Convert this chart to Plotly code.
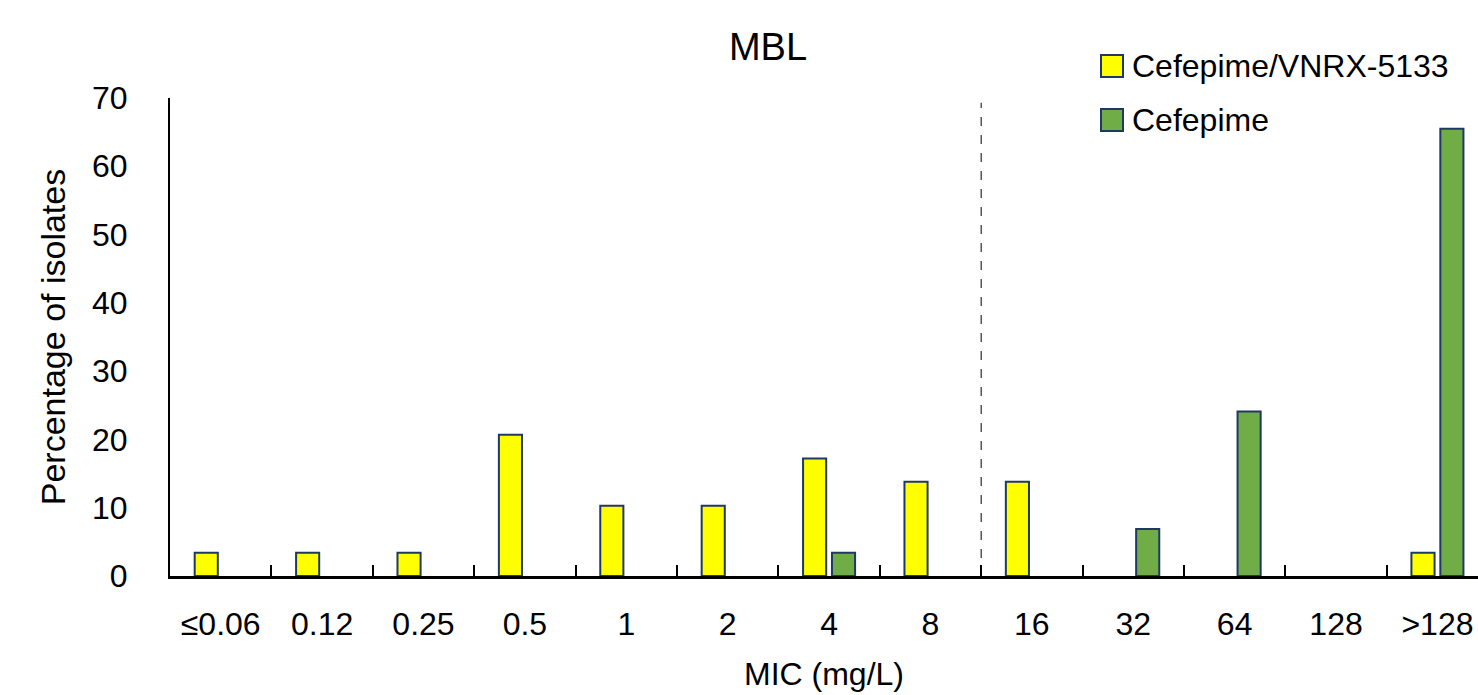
import plotly.graph_objects as go

categories = ["≤0.06", "0.12", "0.25", "0.5", "1", "2", "4", "8", "16", "32", "64", "128", ">128"]
combo_name = "Cefepime/VNRX-5133"
combo_values = [3.4, 3.4, 3.4, 20.7, 10.3, 10.3, 17.2, 13.8, 13.8, 0, 0, 0, 3.4]
mono_name = "Cefepime"
mono_values = [0, 0, 0, 0, 0, 0, 3.4, 0, 0, 6.9, 24.1, 0, 65.5]
y_ticks = [0, 10, 20, 30, 40, 50, 60, 70]
breakpoint_position = 7.5

FONT = "Liberation Sans, Arial, sans-serif"
YELLOW = "#FFFF00"
GREEN = "#70AD47"
EDGE = "#1F3864"


def edge_widths(vals):
    return [2 if v > 0 else 0 for v in vals]


fig = go.Figure()
fig.add_trace(go.Bar(x=categories, y=combo_values, name=combo_name,
                     marker=dict(color=YELLOW, line=dict(color=EDGE, width=edge_widths(combo_values))),
                     showlegend=False))
fig.add_trace(go.Bar(x=categories, y=mono_values, name=mono_name,
                     marker=dict(color=GREEN, line=dict(color=EDGE, width=edge_widths(mono_values))),
                     showlegend=False))

# breakpoint dashed line
fig.add_shape(type="line", xref="x", yref="paper", x0=breakpoint_position, x1=breakpoint_position,
              y0=0, y1=0.99, line=dict(color="black", width=1, dash="dash"))

# manual legend
legend_items = [(combo_name, YELLOW, 66), (mono_name, GREEN, 120)]
for name, color, yc in legend_items:
    fig.add_shape(type="rect", xref="paper", yref="paper",
                  x0=(1101 - 170) / 1308, x1=(1123 - 170) / 1308,
                  y0=(576 - (yc + 11)) / 478, y1=(576 - (yc - 11)) / 478,
                  fillcolor=color, line=dict(color=EDGE, width=2))
    fig.add_annotation(xref="paper", yref="paper", x=(1130 - 170) / 1308, y=(576 - yc) / 478,
                       text=name, showarrow=False, xanchor="left", yanchor="middle",
                       font=dict(family=FONT, size=32, color="black"))

fig.update_layout(
    width=1478, height=695,
    margin=dict(l=170, r=0, t=98, b=119),
    paper_bgcolor="white", plot_bgcolor="white",
    font=dict(family=FONT, size=32, color="black"),
    title=dict(text="MBL", x=768 / 1478, xanchor="center", y=1 - 47 / 695, yanchor="middle",
               font=dict(family=FONT, size=38, color="black")),
    barmode="group", bargap=0.43, bargroupgap=0.2,
    showlegend=False,
)
fig.update_xaxes(
    type="category", range=[-0.5, 12.4], automargin=False,
    showline=True, linecolor="black", linewidth=2.5,
    ticks="inside", ticklen=11, tickwidth=2, tickcolor="black", tickson="boundaries",
    showgrid=False, zeroline=False, tickangle=0,
    tickfont=dict(family=FONT, size=32), ticklabelstandoff=18,
    title=dict(text="MIC (mg/L)", font=dict(family=FONT, size=32), standoff=22),
)
fig.update_yaxes(
    range=[0, 70], tickvals=y_ticks, automargin=False,
    showline=True, linecolor="black", linewidth=2,
    ticks="", showgrid=False, zeroline=False,
    tickfont=dict(family=FONT, size=32), ticklabelstandoff=34,
    title=dict(text="Percentage of isolates", font=dict(family=FONT, size=34), standoff=16),
)

fig.write_html("out.html")
